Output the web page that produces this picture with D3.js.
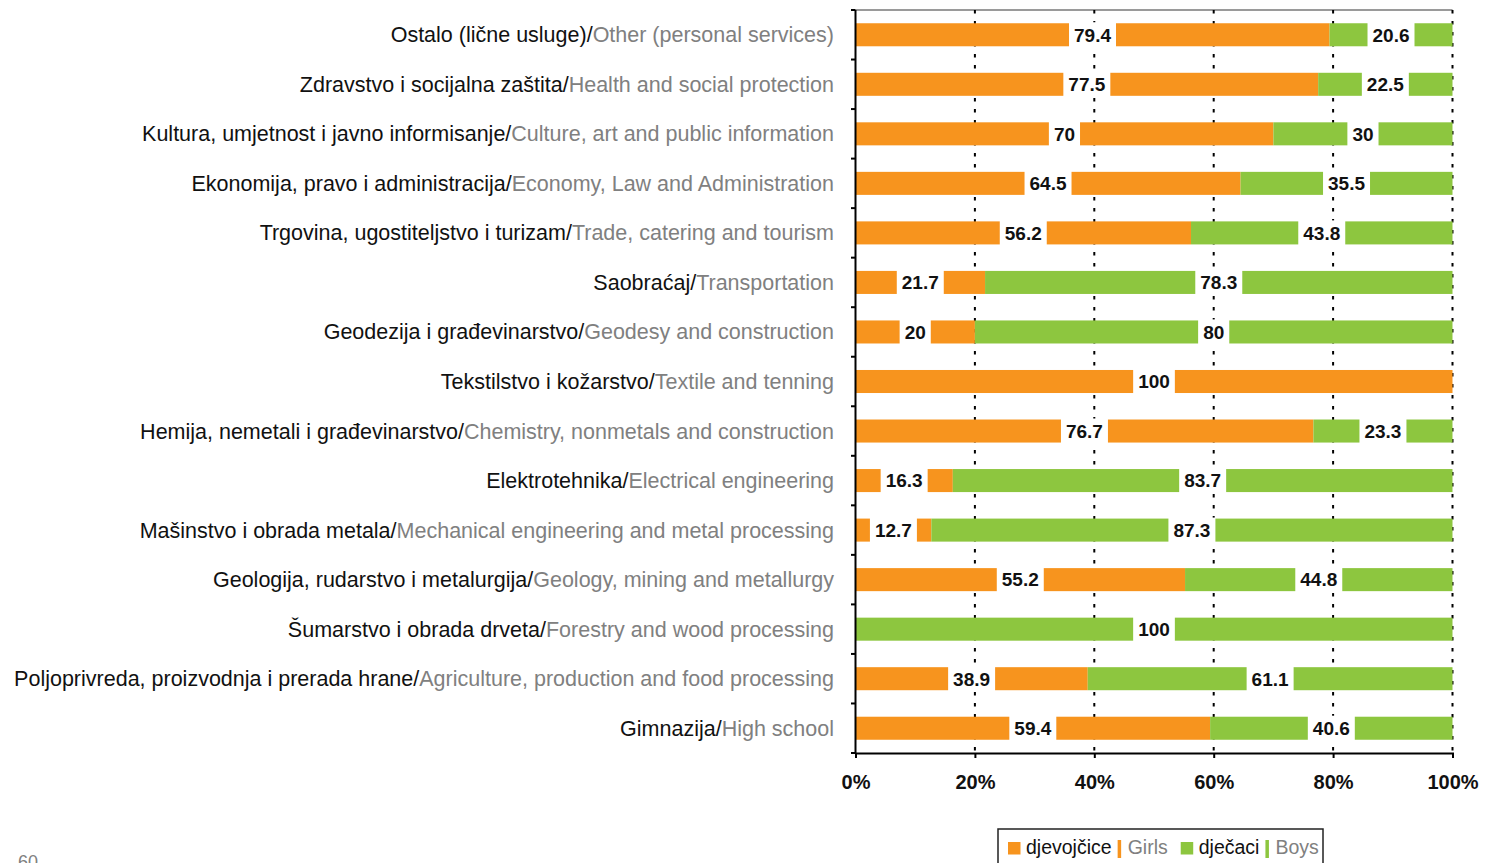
<!DOCTYPE html>
<html>
<head>
<meta charset="utf-8">
<script src="https://cdn.jsdelivr.net/npm/d3@7"></script>
<style>
  html, body { margin: 0; padding: 0; background: #fff; }
  svg { display: block; font-family: "Liberation Sans", Arial, sans-serif; }
</style>
</head>
<body>
<svg id="chart" width="1486" height="863"></svg>
<script>
const categoriesLocal = [
  "Ostalo (lične usluge)",
  "Zdravstvo i socijalna zaštita",
  "Kultura, umjetnost i javno informisanje",
  "Ekonomija, pravo i administracija",
  "Trgovina, ugostiteljstvo i turizam",
  "Saobraćaj",
  "Geodezija i građevinarstvo",
  "Tekstilstvo i kožarstvo",
  "Hemija, nemetali i građevinarstvo",
  "Elektrotehnika",
  "Mašinstvo i obrada metala",
  "Geologija, rudarstvo i metalurgija",
  "Šumarstvo i obrada drveta",
  "Poljoprivreda, proizvodnja i prerada hrane",
  "Gimnazija"
];
const categoriesEnglish = [
  "Other (personal services)",
  "Health and social protection",
  "Culture, art and public information",
  "Economy, Law and Administration",
  "Trade, catering and tourism",
  "Transportation",
  "Geodesy and construction",
  "Textile and tenning",
  "Chemistry, nonmetals and construction",
  "Electrical engineering",
  "Mechanical engineering and metal processing",
  "Geology, mining and metallurgy",
  "Forestry and wood processing",
  "Agriculture, production and food processing",
  "High school"
];
const girls = [79.4, 77.5, 70, 64.5, 56.2, 21.7, 20, 100, 76.7, 16.3, 12.7, 55.2, 0, 38.9, 59.4];
const boys  = [20.6, 22.5, 30, 35.5, 43.8, 78.3, 80, 0, 23.3, 83.7, 87.3, 44.8, 100, 61.1, 40.6];
const xTicks = [0, 20, 40, 60, 80, 100];
const seriesNames = ["djevojčice", "dječaci"];
const seriesEnglish = ["Girls", "Boys"];

const ORANGE = "#F7941E", GREEN = "#8DC63F", GREY = "#808080";
const colors = [ORANGE, GREEN];

const svg = d3.select("#chart");
const pLeft = 855.5, pRight = 1452.5, pTop = 10, pBottom = 753;

const x = d3.scaleLinear().domain([0, 100]).range([pLeft, pRight]);
const y = d3.scaleBand().domain(d3.range(categoriesLocal.length))
  .range([pTop, pBottom]).paddingInner(0.535).paddingOuter(0.2675);

// top border
svg.append("line").attr("x1", pLeft).attr("x2", pRight).attr("y1", pTop).attr("y2", pTop)
  .attr("stroke", "#9a9a9a").attr("stroke-width", 2);

// dotted gridlines
svg.append("g").selectAll("line").data(xTicks.filter(d => d > 0)).join("line")
  .attr("x1", d => x(d)).attr("x2", d => x(d))
  .attr("y1", pTop).attr("y2", pBottom)
  .attr("stroke", "#000").attr("stroke-width", 2)
  .attr("stroke-dasharray", "3.5,7.5");

// stacked data
const rows = categoriesLocal.map((c, i) => ({ i, vals: [girls[i], boys[i]] }));
const segs = [];
rows.forEach(r => {
  let acc = 0;
  r.vals.forEach((v, k) => {
    segs.push({ i: r.i, k, v, x0: acc, x1: acc + v });
    acc += v;
  });
});

const gBars = svg.append("g");
gBars.selectAll("rect").data(segs.filter(s => s.v > 0)).join("rect")
  .attr("x", d => x(d.x0))
  .attr("width", d => x(d.x1) - x(d.x0))
  .attr("y", d => y(d.i))
  .attr("height", y.bandwidth())
  .attr("fill", d => colors[d.k]);

// value labels with white boxes
const gLab = svg.append("g");
segs.filter(s => s.v > 0).forEach(s => {
  const cx = x((s.x0 + s.x1) / 2);
  const cy = y(s.i) + y.bandwidth() / 2;
  const g = gLab.append("g");
  const r = g.append("rect").attr("fill", "#fff");
  const t = g.append("text")
    .attr("x", cx).attr("y", cy).attr("dy", "0.36em")
    .attr("text-anchor", "middle")
    .attr("font-size", 19).attr("font-weight", "bold").attr("fill", "#111")
    .text(String(s.v));
  const w = t.node().getComputedTextLength();
  r.attr("x", cx - w / 2 - 5).attr("width", w + 10)
   .attr("y", y(s.i) - 1).attr("height", y.bandwidth() + 2);
});

// left axis
const bandEdges = d3.range(categoriesLocal.length + 1).map(i => pTop + i * y.step());
svg.append("line").attr("x1", pLeft).attr("x2", pLeft).attr("y1", pTop).attr("y2", pBottom)
  .attr("stroke", "#000").attr("stroke-width", 2);
svg.append("g").selectAll("line").data(bandEdges).join("line")
  .attr("x1", pLeft - 4.5).attr("x2", pLeft).attr("y1", d => d).attr("y2", d => d)
  .attr("stroke", "#000").attr("stroke-width", 2);

// bottom axis
const xAxis = d3.axisBottom(x).tickValues(xTicks).tickSize(5).tickFormat(d => d + "%");
const gx = svg.append("g").attr("transform", `translate(0,${pBottom})`).call(xAxis);
gx.select(".domain").attr("stroke", "#000").attr("stroke-width", 2);
gx.selectAll(".tick line").attr("stroke", "#000").attr("stroke-width", 2);
gx.selectAll(".tick text").attr("y", 22).attr("dy", "0.71em")
  .attr("font-family", "Liberation Sans, Arial, sans-serif")
  .attr("font-size", 20).attr("font-weight", "bold").attr("fill", "#111");

// category labels
const gCat = svg.append("g");
categoriesLocal.forEach((c, i) => {
  const t = gCat.append("text")
    .attr("x", 834).attr("y", y(i) + y.bandwidth() / 2).attr("dy", "0.35em")
    .attr("text-anchor", "end").attr("font-size", 21.5);
  t.append("tspan").attr("fill", "#111").text(c + "/");
  t.append("tspan").attr("fill", GREY).text(categoriesEnglish[i]);
});

// legend
const lg = svg.append("g");
lg.append("rect").attr("x", 998).attr("y", 829).attr("width", 325).attr("height", 45)
  .attr("fill", "#fff").attr("stroke", "#222").attr("stroke-width", 1.5);
let lx = 1008;
const ly = 854;
seriesNames.forEach((name, k) => {
  lg.append("rect").attr("x", lx).attr("y", 842).attr("width", 12.5).attr("height", 12.5)
    .attr("fill", colors[k]);
  lx += 18;
  const t1 = lg.append("text").attr("x", lx).attr("y", ly).attr("font-size", 19.5)
    .attr("fill", "#111").text(name);
  lx += t1.node().getComputedTextLength() + 6;
  lg.append("rect").attr("x", lx).attr("y", 840).attr("width", 3.5).attr("height", 18)
    .attr("fill", colors[k]);
  lx += 10;
  const t2 = lg.append("text").attr("x", lx).attr("y", ly).attr("font-size", 19.5)
    .attr("fill", GREY).text(seriesEnglish[k]);
  lx += t2.node().getComputedTextLength() + 13;
});

// page number
svg.append("text").attr("x", 18).attr("y", 868).attr("font-size", 18)
  .attr("fill", GREY).text("60");
</script>
</body>
</html>
